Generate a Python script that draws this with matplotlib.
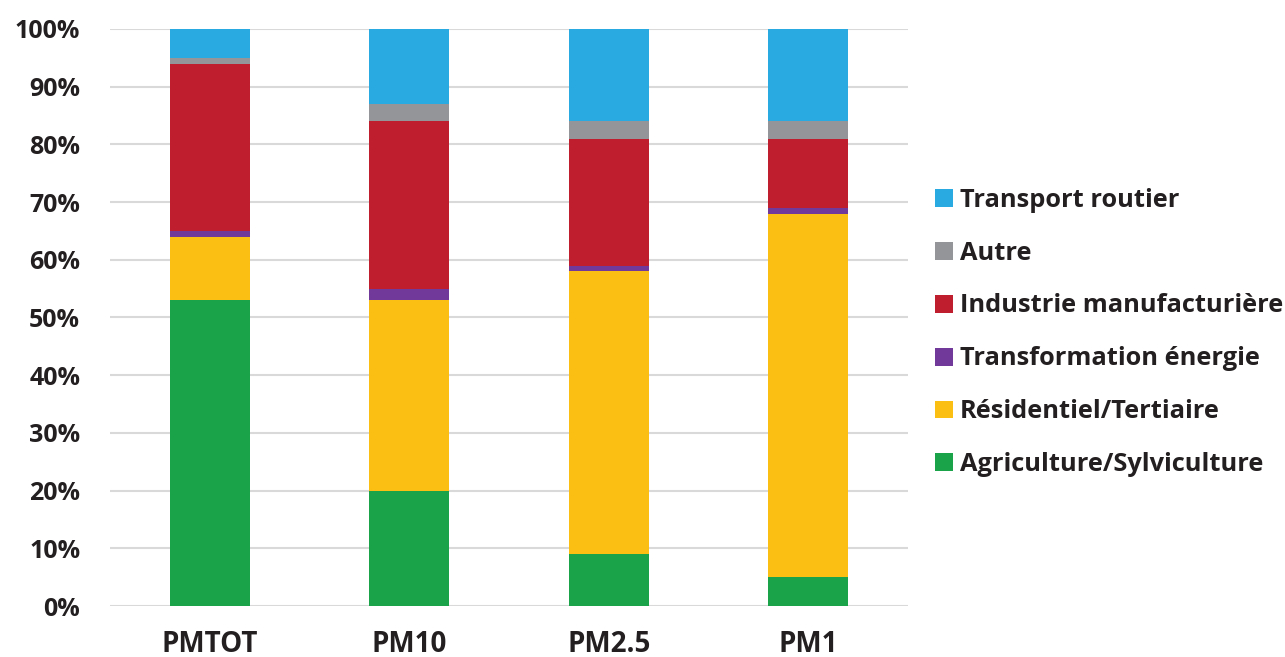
import matplotlib
matplotlib.use("Agg")
import matplotlib.pyplot as plt
import numpy as np
from matplotlib.patches import Patch

plt.rcParams["font.family"] = ["Open Sans", "DejaVu Sans"]
plt.rcParams["font.weight"] = "bold"

categories = ["PMTOT", "PM10", "PM2.5", "PM1"]

# shares in % (bottom to top)
agriculture = [53, 20, 9, 5]
residentiel = [11, 33, 49, 63]
transformation = [1, 2, 1, 1]
industrie = [29, 29, 22, 12]
autre = [1, 3, 3, 3]
transport = [5, 13, 16, 16]

series = [
    ("Agriculture/Sylviculture", agriculture, "#1ba34a"),
    ("Résidentiel/Tertiaire", residentiel, "#fbbf13"),
    ("Transformation énergie", transformation, "#70399a"),
    ("Industrie manufacturière", industrie, "#be1e2d"),
    ("Autre", autre, "#939598"),
    ("Transport routier", transport, "#29abe2"),
]

fig = plt.figure(figsize=(12.85, 6.57), dpi=100)
ax = fig.add_axes([0.0856, 0.0776, 0.6210, 0.8783])

x = np.arange(len(categories))
bottom = np.zeros(len(categories))
for name, vals, color in series:
    vals = np.array(vals, dtype=float)
    ax.bar(x, vals, 0.4, bottom=bottom, color=color, zorder=3)
    bottom += vals

ax.set_xlim(-0.5, 3.5)
ax.set_ylim(0, 100)
ax.set_yticks(np.arange(0, 101, 10))
ax.set_yticklabels([f"{v}%" for v in range(0, 101, 10)])
ax.set_xticks(x)
ax.set_xticklabels(categories)
ax.tick_params(axis="both", length=0, colors="#231f20")
ax.tick_params(axis="y", labelsize=18, pad=21.5)
ax.tick_params(axis="x", labelsize=20, pad=17)
ax.grid(axis="y", color="#d9d9d9", linewidth=1.5, zorder=0)
for s in ax.spines.values():
    s.set_visible(False)

handles = [Patch(facecolor=c, label=n) for n, _, c in reversed(series)]
fig.legend(handles=handles, loc="center left", bbox_to_anchor=(0.7096, 0.494),
           frameon=False, fontsize=18.3, handlelength=0.71, handleheight=0.71,
           handletextpad=0.28, labelspacing=1.1, labelcolor="#231f20")

fig.savefig("out.png", dpi=100)
